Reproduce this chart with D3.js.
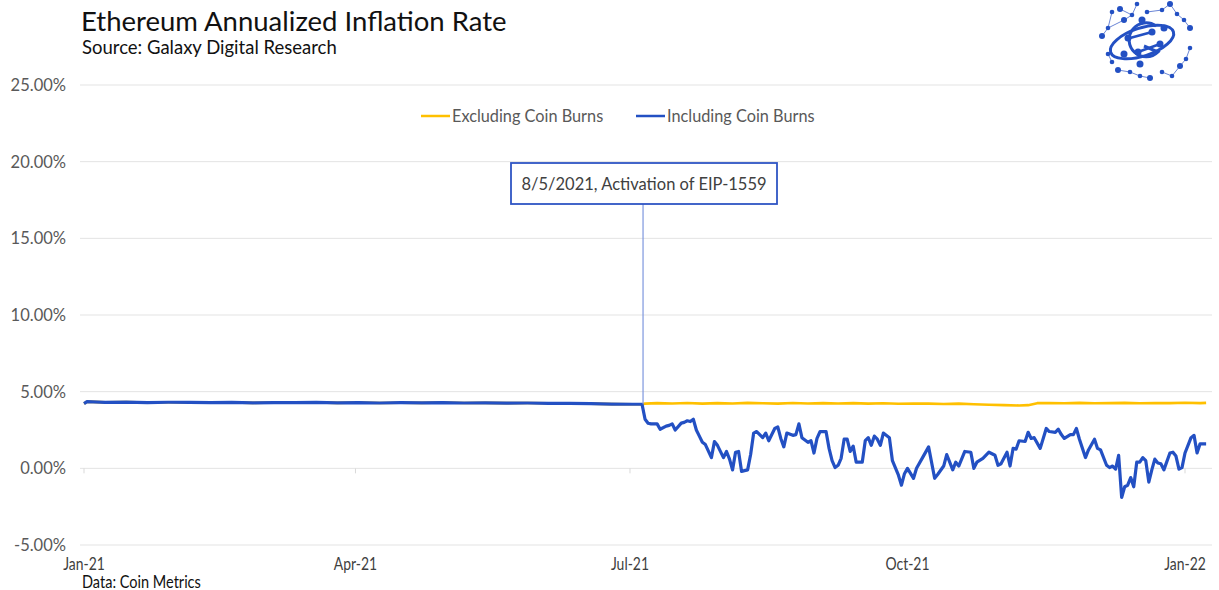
<!DOCTYPE html>
<html>
<head>
<meta charset="utf-8">
<script src="https://cdn.jsdelivr.net/npm/d3@7"></script>
<style>
	body { margin: 0; background: #fff; }
	svg { display: block; font-family: Lato, "Open Sans", sans-serif; }
</style>
</head>
<body>
<div id="container"></div>
<script>
// days counted from 1 Jan 2021
var startDate = new Date(2021, 0, 1);

// both series are the same before the burn starts
var preDays = [0, 1, 7, 14, 21, 28, 35, 42, 49, 56, 63, 70, 77, 84, 91, 98, 105, 112, 119, 126, 133, 140, 147, 154, 161, 168, 175, 182, 185];
var preVals = [4.22, 4.35, 4.30, 4.32, 4.29, 4.31, 4.30, 4.28, 4.30, 4.27, 4.29, 4.28, 4.30, 4.27, 4.29, 4.26, 4.28, 4.27, 4.29, 4.26, 4.27, 4.25, 4.26, 4.24, 4.23, 4.22, 4.19, 4.18, 4.18];

var exclDays = [186, 190, 195, 200, 205, 210, 215, 220, 225, 230, 235, 240, 245, 250, 255, 260, 265, 270, 275, 280, 285, 290, 295, 300, 305, 310, 313, 316, 320, 325, 330, 335, 340, 345, 350, 355, 360, 365, 370, 372];
var exclVals = [4.22, 4.25, 4.23, 4.26, 4.22, 4.25, 4.23, 4.27, 4.24, 4.22, 4.26, 4.23, 4.25, 4.23, 4.25, 4.22, 4.24, 4.21, 4.23, 4.22, 4.20, 4.22, 4.18, 4.15, 4.12, 4.10, 4.12, 4.25, 4.26, 4.24, 4.27, 4.24, 4.25, 4.27, 4.24, 4.26, 4.25, 4.28, 4.25, 4.27];

var inclDays = [186, 187, 188, 190, 191, 193, 194, 195, 196, 198, 199, 200, 201, 202, 203, 204, 205, 206, 208, 209, 210, 212, 213, 214, 215, 216, 217, 218, 220, 221, 222, 223, 225, 226, 227, 229, 230, 231, 232, 233, 235, 236, 237, 238, 240, 241, 242, 243, 244, 246, 247, 248, 249, 250, 251, 252, 253, 254, 255, 256, 258, 259, 260, 261, 262, 263, 264, 265, 267, 268, 270, 271, 272, 273, 275, 276, 278, 280, 282, 283, 285, 286, 288, 289, 290, 292, 294, 295, 296, 298, 300, 302, 303, 304, 306, 307, 308, 309, 310, 312, 313, 314, 315, 317, 319, 320, 322, 323, 324, 325, 327, 328, 329, 330, 332, 333, 335, 336, 337, 339, 340, 341, 342, 343, 344, 345, 346, 347, 348, 349, 350, 351, 352, 353, 354, 355, 356, 357, 358, 360, 361, 362, 363, 364, 365, 367, 368, 369, 370, 372];
var inclVals = [3.2, 2.94, 2.9, 2.9, 2.55, 2.75, 2.8, 2.9, 2.5, 2.95, 3.0, 3.1, 3.05, 3.2, 2.5, 2.1, 1.7, 1.55, 0.7, 1.75, 1.5, 0.7, 1.1, 0.6, -0.1, 1.05, 1.1, -0.2, -0.1, 0.9, 2.3, 2.4, 2.0, 2.3, 1.8, 2.6, 2.7, 1.95, 1.4, 2.3, 2.15, 2.2, 2.9, 2.0, 1.7, 1.8, 1.0, 1.95, 2.4, 2.4, 1.3, 0.5, 0.05, 0.2, 0.65, 1.9, 1.9, 1.1, 1.45, 0.4, 0.4, 1.8, 2.0, 1.5, 2.1, 1.9, 1.5, 2.3, 2.0, 0.5, -0.45, -1.1, -0.35, 0.0, -0.65, 0.0, 0.7, 1.4, -0.65, -0.4, 0.15, 0.9, -0.1, 0.4, 0.15, 1.1, 1.05, 0.0, 0.4, 0.65, 1.05, 0.85, 0.2, 0.3, 1.05, 0.15, 1.3, 1.25, 1.8, 1.75, 2.35, 1.95, 2.0, 1.3, 2.6, 2.4, 2.35, 2.55, 2.2, 1.95, 2.2, 2.2, 2.6, 1.9, 0.7, 1.2, 1.9, 1.3, 1.2, 0.2, 0.05, 0.15, -0.05, 0.85, -1.9, -1.2, -1.1, -0.6, -1.2, 0.4, 0.4, 0.7, 0.5, -0.9, -0.1, 0.6, 0.35, 0.3, -0.1, 1.0, 1.05, 0.8, -0.05, 0.05, 1.0, 2.0, 2.15, 1.0, 1.6, 1.6];

var yTicks = [-5, 0, 5, 10, 15, 20, 25];
var xTickLabels = ["Jan-21", "Apr-21", "Jul-21", "Oct-21", "Jan-22"];
var xTickDates = ["2021-01-01", "2021-04-01", "2021-07-01", "2021-10-01", "2022-01-01"];
var seriesNames = ["Excluding Coin Burns", "Including Coin Burns"];
var seriesColours = ["#ffc000", "#2350c3"];
var eventDay = 185;
var eventText = "8/5/2021, Activation of EIP-1559";

var width = 1219,
	height = 590;

function toDate(d) {
	return d3.timeDay.offset(startDate, d);
}

function makeSeries(days, vals) {
	return days.map(function(d, i) {
		return { date: toDate(d), value: vals[i] };
	});
}

var excluding = makeSeries(preDays.concat(exclDays), preVals.concat(exclVals));
var including = makeSeries(preDays.concat(inclDays), preVals.concat(inclVals));

var xScale = d3.scaleTime()
	.domain([startDate, new Date(2022, 0, 1)])
	.range([84, 1185]);

var yScale = d3.scaleLinear()
	.domain([-5, 25])
	.range([545, 85]);

var svg = d3.select("#container")
	.append("svg")
		.attr("width", width)
		.attr("height", height);

// title
svg.append("text")
	.attr("x", 81).attr("y", 31)
	.style("font-size", "27.5px")
	.style("fill", "#111")
	.text("Ethereum Annualized Inflation Rate");
svg.append("text")
	.attr("x", 82).attr("y", 54)
	.style("font-size", "18.5px")
	.style("fill", "#111")
	.text("Source: Galaxy Digital Research");

// gridlines + y labels
var grid = svg.append("g");
grid.selectAll("line")
	.data(yTicks)
	.enter().append("line")
		.attr("x1", 80).attr("x2", 1212)
		.attr("y1", function(d) { return yScale(d); })
		.attr("y2", function(d) { return yScale(d); })
		.style("stroke", "#e3e3e3")
		.style("stroke-width", 1);
grid.selectAll("text")
	.data(yTicks)
	.enter().append("text")
		.attr("x", 66)
		.attr("y", function(d) { return yScale(d) + 6; })
		.attr("text-anchor", "end")
		.style("font-size", "16.5px")
		.style("fill", "#595959")
		.text(function(d) { return d.toFixed(2) + "%"; });

// x axis small ticks on the zero line
svg.selectAll(".xtick")
	.data(xTickDates)
	.enter().append("line")
		.attr("class", "xtick")
		.attr("x1", function(d) { return xScale(new Date(d + "T00:00:00")); })
		.attr("x2", function(d) { return xScale(new Date(d + "T00:00:00")); })
		.attr("y1", yScale(0))
		.attr("y2", yScale(0) + 5)
		.style("stroke", "#d9d9d9");

// x labels, squeezed like the original
svg.selectAll(".xlabel")
	.data(xTickDates)
	.enter().append("text")
		.attr("class", "xlabel")
		.attr("transform", function(d) {
			return "translate(" + xScale(new Date(d + "T00:00:00")) + ",570) scale(0.82,1)";
		})
		.attr("text-anchor", "middle")
		.style("font-size", "17px")
		.style("fill", "#404040")
		.text(function(d, i) { return xTickLabels[i]; });

svg.append("text")
	.attr("transform", "translate(82,588) scale(0.88,1)")
	.style("font-size", "16.5px")
	.style("fill", "#111")
	.text("Data: Coin Metrics");

// lines
var line = d3.line()
	.x(function(d) { return xScale(d.date); })
	.y(function(d) { return yScale(d.value); });

svg.append("path")
	.datum(excluding)
	.attr("d", line)
	.style("fill", "none")
	.style("stroke", seriesColours[0])
	.style("stroke-width", 2.6)
	.style("stroke-linejoin", "round");

svg.append("path")
	.datum(including)
	.attr("d", line)
	.style("fill", "none")
	.style("stroke", seriesColours[1])
	.style("stroke-width", 3.2)
	.style("stroke-linejoin", "round");

// annotation
var ex = xScale(toDate(eventDay)) + 1;
svg.append("line")
	.attr("x1", ex).attr("x2", ex)
	.attr("y1", 204).attr("y2", yScale(4.18))
	.style("stroke", "#7d97de")
	.style("stroke-width", 1.2);
svg.append("rect")
	.attr("x", 511).attr("y", 163)
	.attr("width", 266).attr("height", 41)
	.style("fill", "#fff")
	.style("stroke", "#2f55c4")
	.style("stroke-width", 1.8);
svg.append("text")
	.attr("x", 644).attr("y", 190)
	.attr("text-anchor", "middle")
	.style("font-size", "16.5px")
	.style("fill", "#404040")
	.text(eventText);

// legend
var legend = svg.append("g").selectAll("g")
	.data(seriesNames)
	.enter().append("g")
		.attr("transform", function(d, i) { return "translate(" + (i == 0 ? 421 : 636) + ",116)"; });
legend.append("line")
	.attr("x1", 0).attr("x2", 29)
	.style("stroke", function(d, i) { return seriesColours[i]; })
	.style("stroke-width", 2.5);
legend.append("text")
	.attr("x", 31).attr("y", 5.5)
	.style("font-size", "16.3px")
	.style("fill", "#595959")
	.text(function(d) { return d; });

// logo (decorative)
var logo = svg.append("g").attr("transform", "translate(1142,42)");
var nodes = [[-22,-33],[-10,-27],[-5,-38],[-18,-22],[5,-30],[20,-32],[28,-38],[35,-28],[42,-22],[48,-14],[48,6],[44,17],[38,24],[30,34],[20,30],[8,36],[-2,34],[-12,30],[-24,28],[-30,20],[-34,12],[-40,-6],[-34,-14],[-30,-30]];
var links = [[0,1],[1,2],[1,3],[4,5],[5,6],[6,7],[7,8],[8,9],[10,11],[11,12],[12,13],[13,14],[15,16],[16,17],[17,18],[19,20],[21,22],[22,23],[3,22]];
logo.selectAll(".lk")
	.data(links)
	.enter().append("line")
		.attr("x1", function(d) { return nodes[d[0]][0]; })
		.attr("y1", function(d) { return nodes[d[0]][1]; })
		.attr("x2", function(d) { return nodes[d[1]][0]; })
		.attr("y2", function(d) { return nodes[d[1]][1]; })
		.style("stroke", "#6b86d6")
		.style("stroke-width", 1);
logo.selectAll(".nd")
	.data(nodes)
	.enter().append("circle")
		.attr("cx", function(d) { return d[0]; })
		.attr("cy", function(d) { return d[1]; })
		.attr("r", function(d, i) { return i % 3 == 0 ? 3 : 2.3; })
		.style("fill", "#2350c3");
logo.append("ellipse")
	.attr("rx", 33).attr("ry", 14)
	.attr("transform", "rotate(-18)")
	.style("fill", "none")
	.style("stroke", "#2350c3")
	.style("stroke-width", 3);
logo.append("path")
	.attr("d", "M14,-16 A17,17 0 1,0 16,10 L2,4")
	.style("fill", "none")
	.style("stroke", "#2350c3")
	.style("stroke-width", 3);
logo.append("path")
	.attr("d", "M-12,-4 L10,-10 M-4,10 L18,2")
	.style("stroke", "#2350c3")
	.style("stroke-width", 2.5);
[[-14,-4],[10,-10],[-4,10],[18,2],[0,-22],[-18,12],[22,-14],[-2,22]].forEach(function(p) {
	logo.append("circle").attr("cx", p[0]).attr("cy", p[1]).attr("r", 3.5).style("fill", "#2350c3");
});
</script>
</body>
</html>
